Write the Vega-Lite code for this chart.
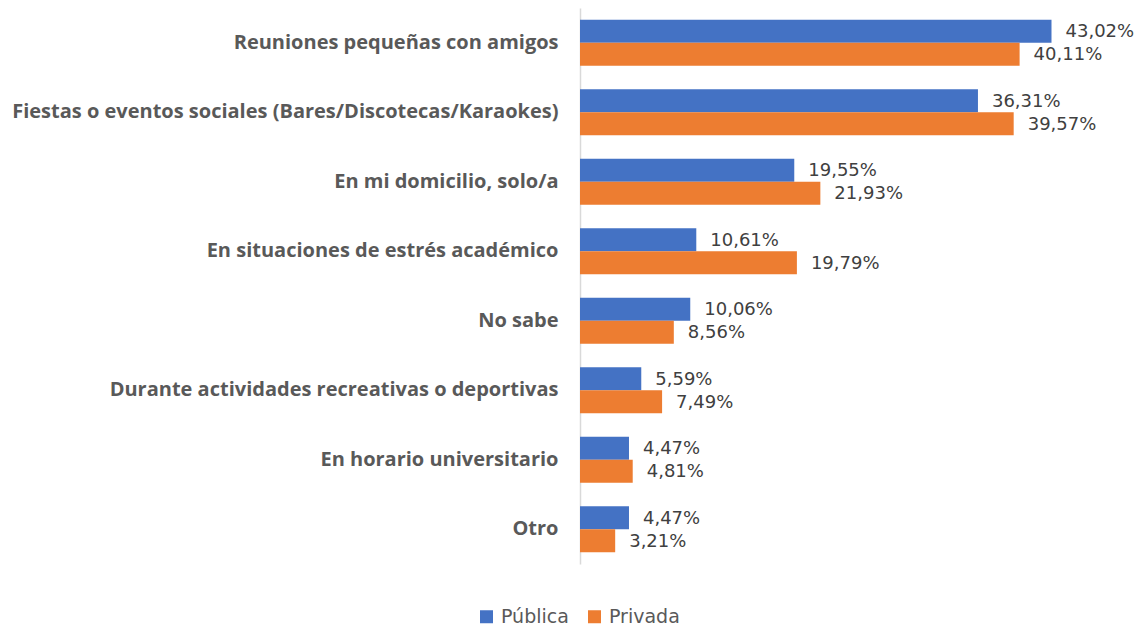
{
  "$schema": "https://vega.github.io/schema/vega-lite/v6.json",
  "width": 548,
  "height": 556,
  "autosize": {"type": "none"},
  "padding": {"left": 580, "top": 8, "right": 15, "bottom": 63},
  "background": "white",
  "config": {
    "view": {"stroke": null},
    "locale": {"number": {"decimal": ",", "thousands": ".", "grouping": [3], "currency": ["", " €"]}},
    "font": "DejaVu Sans"
  },
  "data": {
    "values": [
      {"categoria": "Reuniones pequeñas con amigos", "tipo": "Pública", "valor": 0.4302},
      {"categoria": "Reuniones pequeñas con amigos", "tipo": "Privada", "valor": 0.4011},
      {"categoria": "Fiestas o eventos sociales (Bares/Discotecas/Karaokes)", "tipo": "Pública", "valor": 0.3631},
      {"categoria": "Fiestas o eventos sociales (Bares/Discotecas/Karaokes)", "tipo": "Privada", "valor": 0.3957},
      {"categoria": "En mi domicilio, solo/a", "tipo": "Pública", "valor": 0.1955},
      {"categoria": "En mi domicilio, solo/a", "tipo": "Privada", "valor": 0.2193},
      {"categoria": "En situaciones de estrés académico", "tipo": "Pública", "valor": 0.1061},
      {"categoria": "En situaciones de estrés académico", "tipo": "Privada", "valor": 0.1979},
      {"categoria": "No sabe", "tipo": "Pública", "valor": 0.1006},
      {"categoria": "No sabe", "tipo": "Privada", "valor": 0.0856},
      {"categoria": "Durante actividades recreativas o deportivas", "tipo": "Pública", "valor": 0.0559},
      {"categoria": "Durante actividades recreativas o deportivas", "tipo": "Privada", "valor": 0.0749},
      {"categoria": "En horario universitario", "tipo": "Pública", "valor": 0.0447},
      {"categoria": "En horario universitario", "tipo": "Privada", "valor": 0.0481},
      {"categoria": "Otro", "tipo": "Pública", "valor": 0.0447},
      {"categoria": "Otro", "tipo": "Privada", "valor": 0.0321}
    ]
  },
  "encoding": {
    "y": {
      "field": "categoria",
      "type": "nominal",
      "sort": null,
      "scale": {"paddingInner": 0.34, "paddingOuter": 0.17},
      "axis": {
        "title": null,
        "ticks": false,
        "domainColor": "#d9d9d9",
        "domainWidth": 1.5,
        "labelFont": "Open Sans",
        "labelFontWeight": "bold",
        "labelFontSize": 20,
        "labelColor": "#595959",
        "labelPadding": 22,
        "labelLimit": 600
      }
    },
    "yOffset": {"field": "tipo", "type": "nominal", "sort": ["Pública", "Privada"]},
    "x": {
      "field": "valor",
      "type": "quantitative",
      "scale": {"domain": [0, 0.5]},
      "axis": null
    }
  },
  "layer": [
    {
      "mark": {"type": "bar"},
      "encoding": {
        "color": {
          "field": "tipo",
          "type": "nominal",
          "sort": ["Pública", "Privada"],
          "scale": {"domain": ["Pública", "Privada"], "range": ["#4472C4", "#ED7D31"]},
          "legend": {
            "title": null,
            "orient": "none",
            "direction": "horizontal",
            "legendX": -103,
            "legendY": 599,
            "symbolType": "square",
            "symbolSize": 169,
            "symbolStrokeWidth": 0,
            "labelFont": "DejaVu Sans",
            "labelFontSize": 19,
            "labelColor": "#595959",
            "columnPadding": 16,
            "labelOffset": 5
          }
        }
      }
    },
    {
      "mark": {"type": "text", "align": "left", "baseline": "middle", "dx": 14, "dy": 1, "fontSize": 18, "font": "DejaVu Sans", "color": "#404040"},
      "encoding": {
        "text": {"field": "valor", "type": "quantitative", "format": ".2%"}
      }
    }
  ]
}
